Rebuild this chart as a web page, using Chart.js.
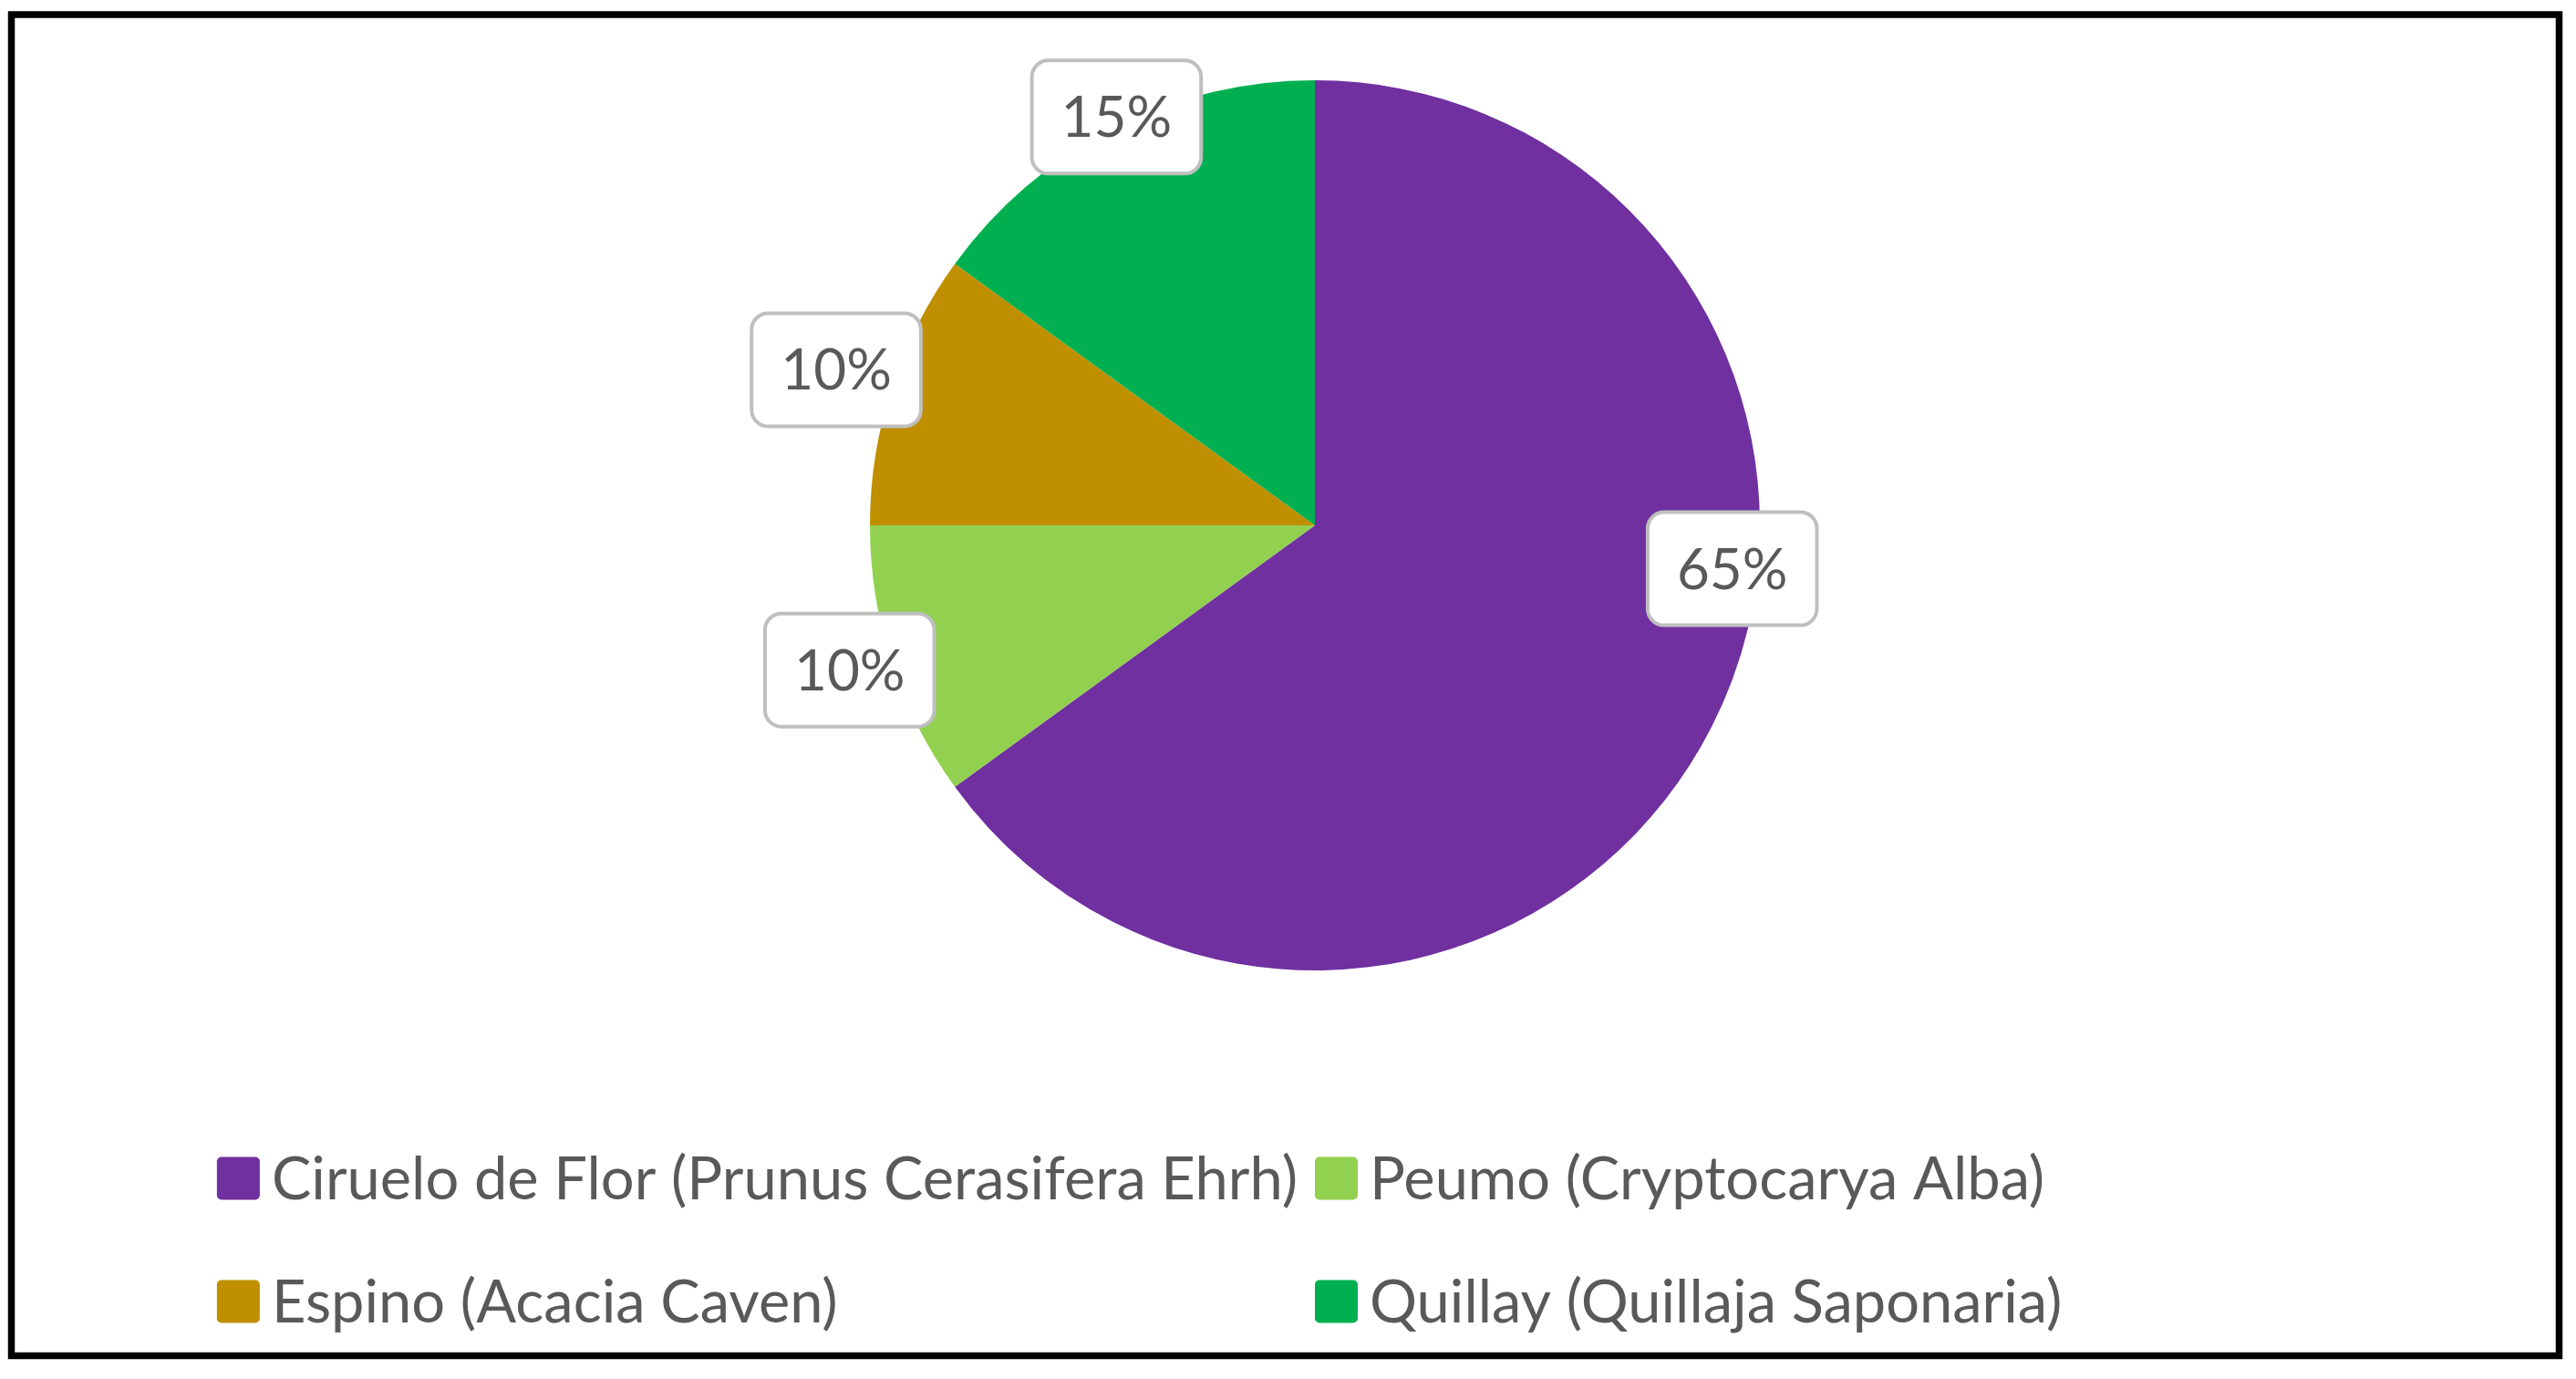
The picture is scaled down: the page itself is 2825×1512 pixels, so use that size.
<!DOCTYPE html>
<html>
<head>
<meta charset="utf-8">
<script src="https://cdn.jsdelivr.net/npm/chart.js@4.4.1/dist/chart.umd.min.js"></script>
<style>
  html, body { margin: 0; padding: 0; background: #fff; }
  canvas { display: block; }
</style>
</head>
<body>
<canvas id="especiesPie" width="2825" height="1512"></canvas>
<script>
(() => {
  // datos del gráfico
  const categories = [
    "Ciruelo de Flor (Prunus Cerasifera Ehrh)",
    "Peumo (Cryptocarya Alba)",
    "Espino (Acacia Caven)",
    "Quillay (Quillaja Saponaria)"
  ];
  const shares = [65, 10, 10, 15];
  const sliceColors = ["#7030A0", "#92D050", "#BF8F00", "#00B050"];

  const FONT = "Lato, 'Open Sans', sans-serif";
  const TEXT_COLOR = "#595959";

  // marco negro alrededor del gráfico
  const framePlugin = {
    id: "frame",
    afterDraw: (chart) => {
      const ctx = chart.ctx;
      ctx.save();
      ctx.strokeStyle = "#000";
      ctx.lineWidth = 7.5;
      ctx.strokeRect(12.5, 16, 2794, 1470.5);
      ctx.restore();
    }
  };

  // etiquetas con porcentaje dentro de cajas redondeadas
  const boxLabelPlugin = {
    id: "boxLabels",
    afterDatasetsDraw: (chart, args, opts) => {
      const ctx = chart.ctx;
      const meta = chart.getDatasetMeta(0);
      const data = chart.data.datasets[0].data;
      ctx.save();
      ctx.font = opts.size + "px " + FONT;
      ctx.textAlign = "center";
      ctx.textBaseline = "middle";
      meta.data.forEach((arc, i) => {
        const p = arc.getProps(["x", "y", "startAngle", "endAngle", "outerRadius"], true);
        const a = p.startAngle + (p.endAngle - p.startAngle) * opts.along[i];
        const r = p.outerRadius * opts.out[i];
        const cx = p.x + Math.cos(a) * r;
        const cy = p.y + Math.sin(a) * r;
        const txt = data[i] + "%";
        const w = ctx.measureText(txt).width + 64;
        const h = 124;
        ctx.beginPath();
        ctx.roundRect(cx - w / 2, cy - h / 2, w, h, 18);
        ctx.fillStyle = "#fff";
        ctx.fill();
        ctx.lineWidth = 4;
        ctx.strokeStyle = "#BFBFBF";
        ctx.stroke();
        ctx.fillStyle = TEXT_COLOR;
        ctx.fillText(txt, cx, cy + 2);
      });
      ctx.restore();
    }
  };

  // leyenda en dos columnas (como Excel)
  const gridLegendPlugin = {
    id: "gridLegend",
    afterDraw: (chart, args, opts) => {
      const ctx = chart.ctx;
      const labels = chart.data.labels;
      const colors = chart.data.datasets[0].backgroundColor;
      ctx.save();
      ctx.font = opts.size + "px " + FONT;
      ctx.textBaseline = "middle";
      const itemW = Math.max(...labels.map(l => ctx.measureText(l).width)) + opts.box + opts.gap + opts.colGap;
      const cols = 2;
      const area = chart.chartArea;
      const startX = (area.left + area.right) / 2 - (itemW * cols) / 2;
      labels.forEach((label, i) => {
        const col = i % cols;
        const row = Math.floor(i / cols);
        const x = startX + col * itemW;
        const y = area.bottom + opts.top + row * opts.rowH;
        ctx.fillStyle = colors[i];
        ctx.beginPath();
        ctx.roundRect(x, y - opts.box / 2, opts.box, opts.box, 5);
        ctx.fill();
        ctx.fillStyle = TEXT_COLOR;
        ctx.fillText(label, x + opts.box + opts.gap, y + 2);
      });
      ctx.restore();
    }
  };

  new Chart(document.getElementById("especiesPie"), {
    type: "pie",
    data: {
      labels: categories,
      datasets: [{
        data: shares,
        backgroundColor: sliceColors,
        borderWidth: 0,
        hoverOffset: 0
      }]
    },
    options: {
      responsive: false,
      animation: false,
      layout: {
        padding: { top: 88, bottom: 448, left: 59, right: 0 }
      },
      plugins: {
        legend: { display: false },
        tooltip: { enabled: false },
        boxLabels: {
          size: 62,
          along: [0.41, 0.52, 0.5, 0.52],
          out: [0.943, 1.095, 1.131, 1.02]
        },
        gridLegend: {
          size: 65,
          box: 47,
          gap: 13,
          colGap: 19,
          top: 228,
          rowH: 135
        }
      }
    },
    plugins: [boxLabelPlugin, gridLegendPlugin, framePlugin]
  });
})();
</script>
</body>
</html>
